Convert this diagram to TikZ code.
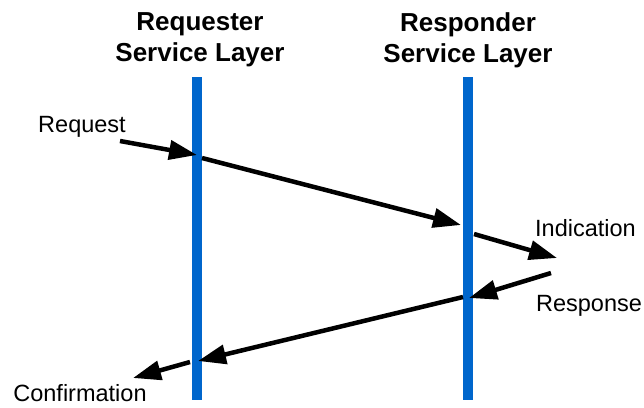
\documentclass[tikz,border=0pt]{standalone}
\usepackage{fontspec}
\setmainfont{Liberation Sans}
\usetikzlibrary{arrows.meta}
\definecolor{layerblue}{RGB}{0,102,204}
\tikzset{
  layer/.style={draw=layerblue, line width=10pt},
  msg/.style={draw=black, line width=4.5pt,
    -{Triangle[length=28pt, width=19pt]}},
  heading/.style={font=\fontsize{26}{31}\selectfont\bfseries, align=center, inner sep=0pt},
  label/.style={font=\fontsize{23.5}{28}\selectfont, inner sep=0pt, anchor=base}
}
\begin{document}
\begin{tikzpicture}[x=1pt, y=-1pt]
  \useasboundingbox (0,0) rectangle (644,407);

  % service layers
  \coordinate (reqTop) at (197,77);
  \coordinate (reqBot) at (197,400);
  \coordinate (resTop) at (467.5,77);
  \coordinate (resBot) at (467.5,400);
  \draw[layer] (reqTop) -- (reqBot);
  \draw[layer] (resTop) -- (resBot);

  \node[heading, anchor=north] (reqHead) at (200,12) {Requester\\Service Layer};
  \node[heading, anchor=north] (resHead) at (468,12) {Responder\\Service Layer};

  % primitive labels
  \node[label] (request) at (82,132) {Request};
  \node[label] (indication) at (585.5,236) {Indication};
  \node[label] (response) at (589,311) {Response};
  \node[label] (confirmation) at (80,401) {Confirmation};

  % message end points
  \coordinate (reqIn) at (120,141);
  \coordinate (reqTip) at (197,155);
  \coordinate (reqOut) at (202,158);
  \coordinate (resTip) at (461,225);
  \coordinate (indOut) at (474,234);
  \coordinate (indTip) at (557,258);
  \coordinate (rspIn) at (551,273);
  \coordinate (rspTip) at (469,298);
  \coordinate (rspOut) at (463,297);
  \coordinate (cnfTip) at (198,361);
  \coordinate (cnfOut) at (190,362);
  \coordinate (cnfEnd) at (133,378);

  % messages
  \draw[msg] (reqIn) -- (reqTip);
  \draw[msg] (reqOut) -- (resTip);
  \draw[msg] (indOut) -- (indTip);
  \draw[msg] (rspIn) -- (rspTip);
  \draw[msg] (rspOut) -- (cnfTip);
  \draw[msg] (cnfOut) -- (cnfEnd);
\end{tikzpicture}
\end{document}
